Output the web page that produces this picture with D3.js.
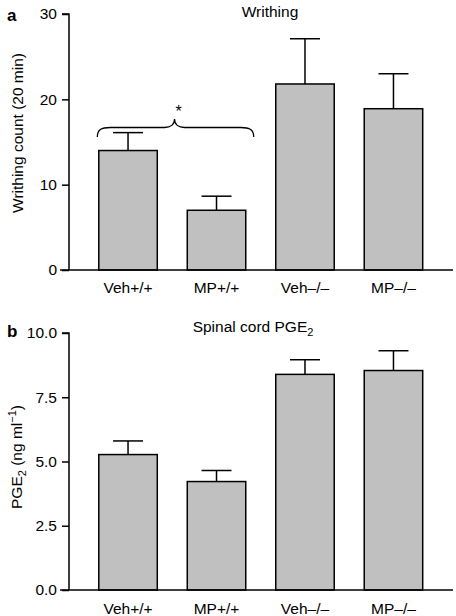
<!DOCTYPE html>
<html><head><meta charset="utf-8">
<script src="https://cdn.jsdelivr.net/npm/d3@7"></script>
<style>body{margin:0;background:#fff}svg{display:block;font-family:"Liberation Sans",Arial,sans-serif}</style>
</head><body><svg id="c" width="456" height="616"></svg>
<script>
const categories = ["Veh+/+", "MP+/+", "Veh\u2013/\u2013", "MP\u2013/\u2013"];
const writhingMean = [14.0, 7.0, 21.8, 18.9];
const writhingErr  = [16.1, 8.65, 27.1, 23.0];
const writhingTicks = [0, 10, 20, 30];
const pgeMean = [5.27, 4.22, 8.39, 8.54];
const pgeErr  = [5.80, 4.65, 8.96, 9.31];
const pgeTicks = [0, 2.5, 5.0, 7.5, 10.0];
const braceLevel = 16.7; // writhing units

const svg = d3.select("#c");
const x = d3.scaleBand().domain(categories).range([83.75, 437.75]).paddingInner(0.339).paddingOuter(0.17);

function panel(opts){
  const g = svg.append("g");
  const y = d3.scaleLinear().domain(opts.domain).range(opts.range);
  g.selectAll("rect.bar").data(categories).join("rect")
    .attr("x", d=>x(d)).attr("width", x.bandwidth())
    .attr("y", (d,i)=>y(opts.mean[i])).attr("height", (d,i)=>y(0)-y(opts.mean[i]))
    .attr("fill","#c0c0c0").attr("stroke","#000").attr("stroke-width",1.5);
  const eb = g.selectAll("g.eb").data(categories).join("g");
  eb.append("line").attr("x1",d=>x(d)+x.bandwidth()/2).attr("x2",d=>x(d)+x.bandwidth()/2)
    .attr("y1",(d,i)=>y(opts.mean[i])).attr("y2",(d,i)=>y(opts.err[i]))
    .attr("stroke","#000").attr("stroke-width",1.5);
  eb.append("line").attr("x1",d=>x(d)+x.bandwidth()/2-15).attr("x2",d=>x(d)+x.bandwidth()/2+15)
    .attr("y1",(d,i)=>y(opts.err[i])).attr("y2",(d,i)=>y(opts.err[i]))
    .attr("stroke","#000").attr("stroke-width",1.5);
  const ya = g.append("g").attr("transform","translate(69,0)")
    .call(d3.axisLeft(y).tickValues(opts.ticks).tickSize(7).tickPadding(5).tickFormat(opts.fmt));
  ya.select(".domain").attr("d", `M-7,${y(opts.domain[1])}H0V${y(0)}`).attr("stroke-width",1.5);
  ya.selectAll(".tick line").attr("stroke-width",1.5);
  ya.selectAll(".tick text").attr("font-size",15.5).attr("fill","#000").attr("font-family","Liberation Sans, Arial, sans-serif");
  const xa = g.append("g").attr("transform",`translate(0,${y(0)})`)
    .call(d3.axisBottom(x).tickSize(0).tickPadding(0));
  xa.select(".domain").attr("d","M60,0H453").attr("stroke-width",1.5);
  xa.selectAll(".tick text").attr("font-size",15.5).attr("fill","#000").attr("dy",null).attr("y",opts.xlabY)
    .attr("font-family","Liberation Sans, Arial, sans-serif");
  return {g,y};
}

// Panel a
const A = panel({domain:[0,30], range:[270,14], mean:writhingMean, err:writhingErr, ticks:writhingTicks, fmt:d3.format("d"), xlabY:23});
svg.append("text").attr("x",7).attr("y",21).attr("font-weight","bold").attr("font-size",17).text("a");
svg.append("text").attr("x",270).attr("y",17).attr("text-anchor","middle").attr("font-size",15.5).text("Writhing");
svg.append("text").attr("transform","translate(23,133) rotate(-90)").attr("text-anchor","middle").attr("font-size",15.5).text("Writhing count (20 min)");
{
  const y = A.y, by = y(braceLevel);
  const l = x(categories[0]) - 1.5, r = x(categories[1]) + x.bandwidth() + 8, m = (l + r) / 2 - 1;
  const t = by + 9.5, pk = by - 8.5;
  const p = `M${l},${t} C${l},${by+2} ${l+4},${by} ${l+13},${by} L${m-10},${by} C${m-4},${by} ${m},${by-3} ${m},${pk}`+
            ` C${m},${by-3} ${m+4},${by} ${m+10},${by} L${r-13},${by} C${r-4},${by} ${r},${by+2} ${r},${t}`;
  svg.append("path").attr("d",p).attr("fill","none").attr("stroke","#000").attr("stroke-width",1.3);
  svg.append("text").attr("x",m+4).attr("y",pk-2).attr("text-anchor","middle").attr("font-size",16).text("*");
}

// Panel b
const B = panel({domain:[0,10], range:[590,333], mean:pgeMean, err:pgeErr, ticks:pgeTicks, fmt:d3.format(".1f"), xlabY:24});
svg.append("text").attr("x",7).attr("y",337).attr("font-weight","bold").attr("font-size",17).text("b");
const tb = svg.append("text").attr("x",253).attr("y",332).attr("text-anchor","middle").attr("font-size",15.5);
tb.append("tspan").text("Spinal cord PGE");
tb.append("tspan").attr("font-size",11).attr("dy",4).text("2");
const yl = svg.append("text").attr("transform","translate(22,457) rotate(-90)").attr("text-anchor","middle").attr("font-size",15.5);
yl.append("tspan").text("PGE");
yl.append("tspan").attr("font-size",11).attr("dy",4).text("2");
yl.append("tspan").attr("dy",-4).text(" (ng ml");
yl.append("tspan").attr("font-size",11).attr("dy",-6).text("\u22121");
yl.append("tspan").attr("dy",6).text(")");
</script></body></html>
